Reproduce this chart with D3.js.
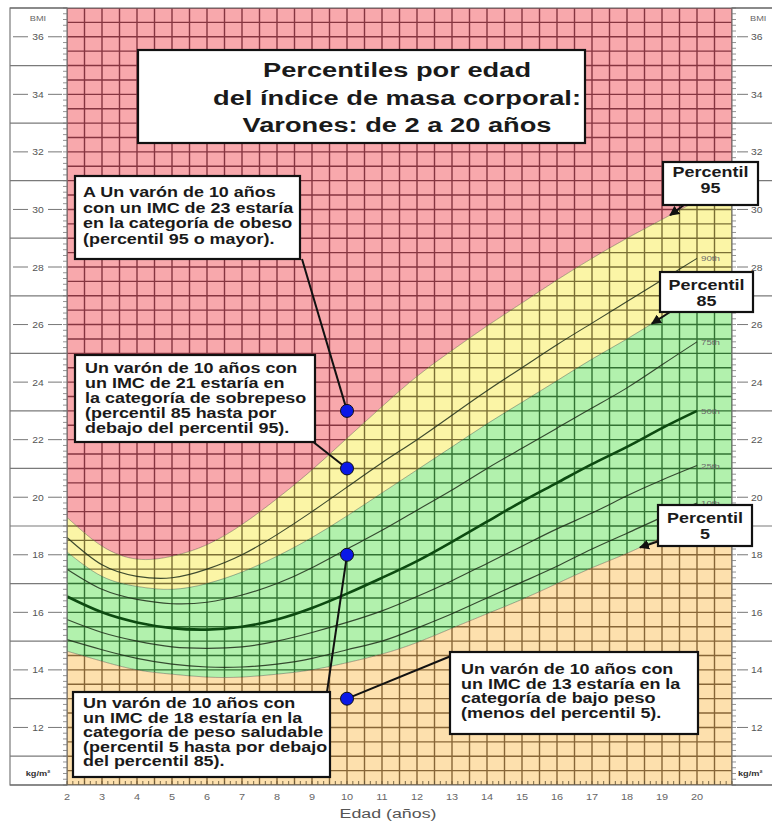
<!DOCTYPE html>
<html><head><meta charset="utf-8">
<script src="https://cdn.jsdelivr.net/npm/d3@7"></script>
<style>body{margin:0;background:#fff}svg{display:block}</style>
</head><body>
<svg id="c" width="772" height="823"></svg>
<script>
// ---------- DATA ----------
const ages = [2,3,4,5,6,7,8,9,10,11,12,13,14,15,16,17,18,19,20];
const p5  = [14.65,14.3,14.0,13.85,13.75,13.75,13.85,14.0,14.25,14.55,14.95,15.45,15.95,16.45,17.0,17.55,18.05,18.6,19.1];
const p10 = [15.05,14.7,14.4,14.2,14.1,14.1,14.2,14.4,14.7,15.0,15.45,15.95,16.5,17.05,17.6,18.2,18.75,19.3,19.8];
const p25 = [15.75,15.3,15.0,14.8,14.75,14.8,15.0,15.3,15.65,16.05,16.55,17.1,17.7,18.3,18.9,19.45,20.05,20.6,21.1];
const p50 = [16.55,16.0,15.65,15.45,15.4,15.5,15.75,16.15,16.65,17.2,17.78,18.45,19.15,19.85,20.5,21.15,21.75,22.4,23.0];
const p75 = [17.5,16.8,16.45,16.3,16.35,16.6,17.0,17.55,18.2,18.85,19.55,20.25,21.0,21.7,22.4,23.1,23.8,24.6,25.4];
const p85 = [18.1,17.25,16.9,16.8,17.0,17.4,17.95,18.6,19.35,20.15,20.95,21.75,22.55,23.3,24.05,24.8,25.5,26.25,27.0];
const p90 = [18.6,17.65,17.25,17.2,17.5,18.0,18.7,19.5,20.35,21.2,22.0,22.85,23.7,24.5,25.3,26.05,26.8,27.55,28.3];
const p95 = [19.3,18.3,17.85,17.95,18.35,19.05,19.95,20.95,22.05,23.15,24.2,25.1,25.95,26.75,27.55,28.3,29.0,29.65,30.3];
// fill boundaries continue to the right edge of the grid (age 21)
const edgeAge = 21;
const edgeP5 = 19.6, edgeP85 = 27.7, edgeP95 = 30.9;
const xTickLabels = [2,3,4,5,6,7,8,9,10,11,12,13,14,15,16,17,18,19,20];
const yTickLabels = [12,14,16,18,20,22,24,26,28,30,32,34,36];
const lineLabels = ["90th","75th","50th","25th","10th"];
const exampleAge = 10;
const exampleBMI = [23,21,18,13];
const titleLines = ["Percentiles por edad","del índice de masa corporal:","Varones: de 2 a 20 años"];
const noteObese = ["A Un varón de 10 años","con un IMC de 23 estaría","en la categoría de obeso","(percentil 95 o mayor)."];
const noteOver = ["Un varón de 10 años con","un IMC de 21 estaría en","la categoría de sobrepeso","(percentil 85 hasta por","debajo del percentil 95)."];
const noteHealthy = ["Un varón de 10 años con","un IMC de 18 estaría en la","categoría de peso saludable","(percentil 5 hasta por debajo","del percentil 85)."];
const noteUnder = ["Un varón de 10 años con","un IMC de 13 estaría en la","categoría de bajo peso","(menos del percentil 5)."];

// ---------- SETUP ----------
const svg = d3.select("#c");
const FONT = "'Liberation Sans', Arial, Helvetica, sans-serif";
const SX = 1.3; // horizontal stretch of the reference's lettering
const xS = d3.scaleLinear().domain([2,21]).range([67,732]);
const yS = d3.scaleLinear().domain([10,37]).range([785,8]);
const X0 = xS(2), X1 = xS(21), Y0 = yS(10), Y1 = yS(37);
const curve = d3.curveNatural;

function txt(g, x, y, s, o={}) {
  return g.append("text")
    .attr("transform", `translate(${x},${y}) scale(${o.sx||SX},1)`)
    .attr("text-anchor", o.anchor||"start")
    .attr("font-family", FONT)
    .attr("font-size", o.size||12)
    .attr("font-weight", o.weight||"normal")
    .attr("fill", o.fill||"#111")
    .text(s);
}
const zip = (arr, ext) => {
  const r = ages.map((a,i)=>({a, v: arr[i]}));
  if (ext !== undefined) r.push({a: edgeAge, v: ext});
  return r;
};
const bandData = ages.map((a,i)=>({a, lo5:p5[i], hi85:p85[i], hi95:p95[i]}))
  .concat([{a:edgeAge, lo5:edgeP5, hi85:edgeP85, hi95:edgeP95}]);

// ---------- REGIONS ----------
const regions = [
  {id:"red",    fill:"#f8a8ac", grid:"#863540", y0:()=>Y1,            y1:d=>yS(d.hi95)},
  {id:"yellow", fill:"#fbf5a6", grid:"#7a6f34", y0:d=>yS(d.hi95),     y1:d=>yS(d.hi85)},
  {id:"green",  fill:"#b2f1ad", grid:"#327233", y0:d=>yS(d.hi85),     y1:d=>yS(d.lo5)},
  {id:"peach",  fill:"#fde0ad", grid:"#876637", y0:d=>yS(d.lo5),      y1:()=>Y0}
];
const defs = svg.append("defs");
const gx = d3.range(2, 21.001, 0.5);
const gy = d3.range(10, 37.001, 0.5);
regions.forEach(r=>{
  const area = d3.area().x(d=>xS(d.a)).y0(r.y0).y1(r.y1).curve(curve);
  const d = area(bandData);
  defs.append("clipPath").attr("id","clip-"+r.id).append("path").attr("d", d);
  svg.append("path").attr("d", d).attr("fill", r.fill);
  const g = svg.append("g").attr("clip-path", `url(#clip-${r.id})`)
    .attr("stroke", r.grid).attr("stroke-width", 1.4);
  g.selectAll("line.v").data(gx).join("line")
    .attr("x1", d=>xS(d)).attr("x2", d=>xS(d)).attr("y1", Y1).attr("y2", Y0);
  g.selectAll("line.h").data(gy).join("line")
    .attr("y1", d=>yS(d)).attr("y2", d=>yS(d)).attr("x1", X0).attr("x2", X1);
});

// ---------- BOUNDARIES & PERCENTILE LINES ----------
const line = d3.line().x(d=>xS(d.a)).y(d=>yS(d.v)).curve(curve);
[[p95,edgeP95],[p85,edgeP85],[p5,edgeP5]].forEach(([arr,e])=>{
  svg.append("path").attr("d", line(zip(arr,e))).attr("fill","none")
    .attr("stroke","#000").attr("stroke-opacity",0.3).attr("stroke-width",1);
});
const thin = [p90,p75,p25,p10];
thin.forEach(arr=>{
  svg.append("path").attr("d", line(zip(arr))).attr("fill","none")
    .attr("stroke","#1e2e1a").attr("stroke-opacity",0.85).attr("stroke-width",1.15);
});
svg.append("path").attr("d", line(zip(p50))).attr("fill","none")
  .attr("stroke","#0c4a10").attr("stroke-width",2.6);
[p90,p75,p50,p25,p10].forEach((arr,i)=>{
  txt(svg, xS(20)+4, yS(arr[arr.length-1])+3, lineLabels[i], {size:7.5, fill:"#6a6a6a"});
});

// ---------- SIDE PANELS ----------
const panelStroke = "#7a7a7a";
svg.append("rect").attr("x",10).attr("y",Y1).attr("width",X0-10).attr("height",Y0-Y1)
  .attr("fill","#fff").attr("stroke",panelStroke).attr("stroke-width",1.2);
svg.append("rect").attr("x",X1).attr("y",Y1).attr("width",772-X1+5).attr("height",Y0-Y1)
  .attr("fill","#fff").attr("stroke",panelStroke).attr("stroke-width",1.2);
const oddB = d3.range(11, 36, 2);
svg.selectAll("line.lp").data(oddB).join("line")
  .attr("x1",10).attr("x2",X0).attr("y1",d=>yS(d)).attr("y2",d=>yS(d))
  .attr("stroke",panelStroke).attr("stroke-width",1.2);
svg.selectAll("line.rp").data(oddB).join("line")
  .attr("x1",X1).attr("x2",772).attr("y1",d=>yS(d)).attr("y2",d=>yS(d))
  .attr("stroke",panelStroke).attr("stroke-width",1.2);
const minorY = d3.range(10, 37.001, 0.2);
svg.selectAll("line.lt").data(minorY).join("line")
  .attr("x1",X0-4).attr("x2",X0).attr("y1",d=>yS(d)).attr("y2",d=>yS(d))
  .attr("stroke","#777").attr("stroke-width",0.8);
svg.selectAll("line.rt").data(minorY).join("line")
  .attr("x1",X1).attr("x2",X1+4).attr("y1",d=>yS(d)).attr("y2",d=>yS(d))
  .attr("stroke","#777").attr("stroke-width",0.8);
yTickLabels.forEach(v=>{
  const y = yS(v);
  svg.append("line").attr("x1",13).attr("x2",28).attr("y1",y).attr("y2",y).attr("stroke","#777").attr("stroke-width",1);
  svg.append("line").attr("x1",48).attr("x2",62).attr("y1",y).attr("y2",y).attr("stroke","#777").attr("stroke-width",1);
  txt(svg, 38, y+3.5, String(v), {size:9, anchor:"middle", fill:"#555", sx:1.15});
  svg.append("line").attr("x1",X1+5).attr("x2",X1+16).attr("y1",y).attr("y2",y).attr("stroke","#777").attr("stroke-width",1);
  txt(svg, X1+19, y+3.5, String(v), {size:9, fill:"#555", sx:1.15});
});
txt(svg, 38, 21, "BMI", {size:8, anchor:"middle", fill:"#666", sx:1.15});
txt(svg, X1+18, 21, "BMI", {size:8, fill:"#666", sx:1.15});
txt(svg, 38, 776, "kg/m²", {size:8, anchor:"middle", fill:"#333", weight:"bold", sx:1.15});
txt(svg, X1+6, 776, "kg/m²", {size:8, fill:"#333", weight:"bold", sx:1.15});

// bottom axis
const minorX = d3.range(2, 21.001, 1/6);
svg.selectAll("line.bt").data(minorX).join("line")
  .attr("x1",d=>xS(d)).attr("x2",d=>xS(d)).attr("y1",Y0-4).attr("y2",Y0)
  .attr("stroke","#6b5a3a").attr("stroke-width",0.9);
svg.append("line").attr("x1",10).attr("x2",772).attr("y1",Y0).attr("y2",Y0).attr("stroke","#666").attr("stroke-width",1.2);
svg.append("line").attr("x1",10).attr("x2",772).attr("y1",Y1).attr("y2",Y1).attr("stroke","#666").attr("stroke-width",1.2);
xTickLabels.forEach(v=>{
  txt(svg, xS(v), 800, String(v), {size:9.5, anchor:"middle", fill:"#666", sx:1.15});
});
txt(svg, 388, 818, "Edad (años)", {size:13.7, anchor:"middle", fill:"#555"});

// ---------- ANNOTATIONS ----------
const dotX = xS(exampleAge);
const leaders = [
  [[302,259],[dotX, yS(exampleBMI[0])]],
  [[312,441],[dotX, yS(exampleBMI[1])]],
  [[327,692],[dotX, yS(exampleBMI[2])]],
  [[451,656],[dotX, yS(exampleBMI[3])]]
];
leaders.forEach(([a,b])=>{
  svg.append("line").attr("x1",a[0]).attr("y1",a[1]).attr("x2",b[0]).attr("y2",b[1])
    .attr("stroke","#111").attr("stroke-width",2);
});
function box(x,y,w,h,lines,tx,ty,lh,opts={}){
  svg.append("rect").attr("x",x).attr("y",y).attr("width",w).attr("height",h)
    .attr("fill","#fff").attr("stroke","#111").attr("stroke-width",2.2);
  lines.forEach((s,i)=>txt(svg, tx, ty+i*lh, s, {size:opts.size||13.8, weight:"bold", fill:"#1a1a1a", anchor:opts.anchor||"start", sx:opts.sx||SX}));
}
box(138,50,447,93,titleLines,397,77,27.5,{size:20.5,anchor:"middle",sx:1.33});
box(75,176,225,83,noteObese,83,197,15.5);
box(75,355,240,87,noteOver,85,373,15);
box(73,692,257,85,noteHealthy,83,708,14.5);
box(450,652,248,82,noteUnder,461,674,14.7);

function valAt(arr, age){
  const i = Math.min(Math.floor(age)-2, ages.length-2);
  const t = age - ages[i];
  return arr[i] + (arr[i+1]-arr[i])*t;
}
defs.append("marker").attr("id","ah").attr("viewBox","0 0 10 10").attr("refX",9).attr("refY",5)
  .attr("markerWidth",5).attr("markerHeight",5).attr("orient","auto")
  .append("path").attr("d","M0,0 L10,5 L0,10 Z").attr("fill","#111");
const callouts = [
  {arr:p95, age:19.23, from:[684,205], rect:[663,162,95,43], lines:["Percentil","95"], ty:177},
  {arr:p85, age:18.71, from:[670,312], rect:[660,272,93,40], lines:["Percentil","85"], ty:290},
  {arr:p5,  age:18.37, from:[662,540], rect:[658,505,94,41], lines:["Percentil","5"], ty:523}
];
callouts.forEach(c=>{
  svg.append("line").attr("x1",c.from[0]).attr("y1",c.from[1])
    .attr("x2",xS(c.age)).attr("y2",yS(valAt(c.arr,c.age)))
    .attr("stroke","#111").attr("stroke-width",2).attr("marker-end","url(#ah)");
  box(c.rect[0],c.rect[1],c.rect[2],c.rect[3],c.lines,c.rect[0]+c.rect[2]/2,c.ty,16,{anchor:"middle",size:13.8});
});

svg.selectAll("circle.dot").data(exampleBMI).join("circle")
  .attr("cx",dotX).attr("cy",d=>yS(d)).attr("r",6.5)
  .attr("fill","#0a18e8").attr("stroke","#111").attr("stroke-width",1);
</script>
</body></html>
